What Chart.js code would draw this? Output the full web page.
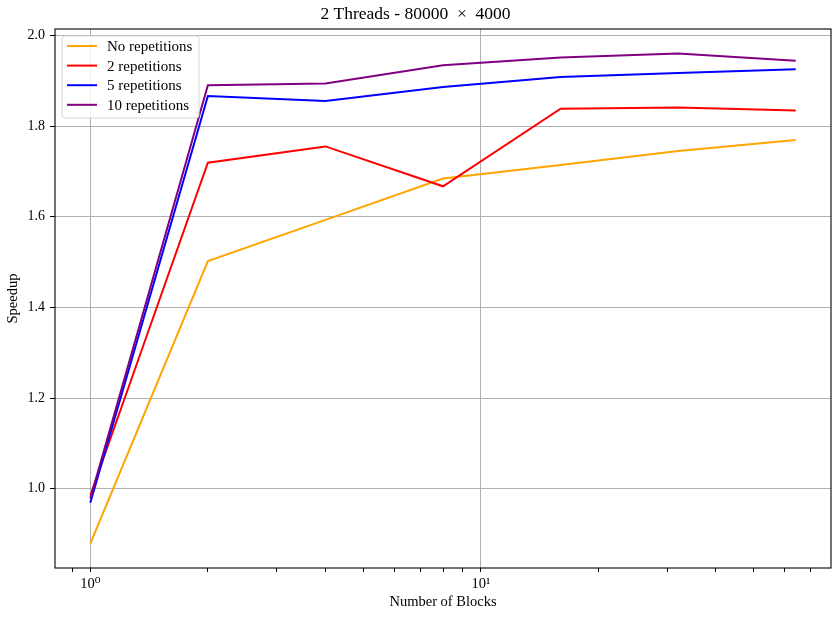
<!DOCTYPE html>
<html>
<head>
<meta charset="utf-8">
<script src="https://cdn.jsdelivr.net/npm/chart.js@4/dist/chart.umd.min.js"></script>
<style>
  html, body { margin: 0; padding: 0; background: #fff; }
  #wrap { width: 840px; height: 618px; }
</style>
</head>
<body>
<div id="wrap"><canvas id="speedup"></canvas></div>
<script>
// values
const blocks = [1, 2, 4, 8, 16, 32, 64];
const noRep = [0.879, 1.502, 1.593, 1.684, 1.714, 1.745, 1.769];
const rep2 = [0.985, 1.719, 1.755, 1.667, 1.838, 1.841, 1.834];
const rep5 = [0.969, 1.866, 1.855, 1.886, 1.908, 1.917, 1.925];
const rep10 = [0.978, 1.890, 1.894, 1.934, 1.951, 1.960, 1.944];

const seriesNames = ["No repetitions", "2 repetitions", "5 repetitions", "10 repetitions"];
const seriesColors = ["#ffa500", "#ff0000", "#0000ff", "#800080"];

const yTicks = [1.0, 1.2, 1.4, 1.6, 1.8, 2.0];
const xMajor = [1, 10];
const xMinor = [0.9, 2, 3, 4, 5, 6, 7, 8, 9, 20, 30, 40, 50, 60, 70];
const xLabels = { 1: "10\u2070", 10: "10\u00b9" };

const serif = "'Liberation Serif', 'DejaVu Serif', serif";

function toPoints(vals) {
    return blocks.map((b, i) => ({ x: b, y: vals[i] }));
}

const allSeries = [noRep, rep2, rep5, rep10];

const datasets = allSeries.map((vals, i) => ({
    label: seriesNames[i],
    data: toPoints(vals),
    borderColor: seriesColors[i],
    backgroundColor: seriesColors[i],
    borderWidth: 2,
    pointRadius: 0,
    tension: 0,
    fill: false,
    order: allSeries.length - i
}));

// frame + legend drawn like matplotlib
const framePlugin = {
    id: "frame",
    afterDraw(chart) {
        const ctx = chart.ctx;
        const a = chart.chartArea;
        ctx.save();
        ctx.strokeStyle = "#000";
        ctx.lineWidth = 1.1;
        ctx.strokeRect(a.left, a.top, a.right - a.left, a.bottom - a.top);

        // legend box
        const bx = a.left + 7, by = a.top + 7, bw = 137, bh = 82;
        ctx.beginPath();
        ctx.roundRect(bx, by, bw, bh, 3);
        ctx.fillStyle = "rgba(255,255,255,0.8)";
        ctx.fill();
        ctx.strokeStyle = "#d6d6d6";
        ctx.lineWidth = 1;
        ctx.stroke();

        ctx.font = "15px " + serif;
        ctx.textBaseline = "middle";
        ctx.textAlign = "left";
        seriesNames.forEach((name, i) => {
            const y = by + 10 + i * 19.6;
            ctx.beginPath();
            ctx.moveTo(bx + 5, y);
            ctx.lineTo(bx + 35, y);
            ctx.strokeStyle = seriesColors[i];
            ctx.lineWidth = 2;
            ctx.stroke();
            ctx.fillStyle = "#000";
            ctx.fillText(name, bx + 45, y + 1);
        });
        ctx.restore();
    }
};

const ctx = document.getElementById("speedup").getContext("2d");

const speedupChart = new Chart(ctx, {
    type: "line",
    data: { datasets: datasets },
    options: {
        responsive: true,
        maintainAspectRatio: false,
        animation: false,
        devicePixelRatio: 1,
        layout: { padding: { left: 0, right: 9, top: 0, bottom: 0 } },
        plugins: {
            legend: { display: false },
            tooltip: { enabled: false },
            title: {
                display: true,
                text: "2 Threads - 80000 \u00a0\u00d7\u00a0 4000",
                color: "#000",
                font: { family: serif, size: 17.5, weight: "normal" },
                padding: { top: 4, bottom: 4 }
            }
        },
        scales: {
            x: {
                type: "logarithmic",
                min: 0.812,
                max: 78.8,
                afterBuildTicks(scale) {
                    scale.ticks = xMinor.concat(xMajor).sort((a, b) => a - b).map(v => ({ value: v }));
                },
                afterFit(scale) { scale.height = 50; },
                ticks: {
                    autoSkip: false,
                    maxRotation: 0,
                    color: "#000",
                    padding: 3,
                    font: { family: serif, size: 14.5 },
                    callback: v => xLabels[v] || ""
                },
                grid: {
                    color: c => (c.tick && xMajor.includes(c.tick.value)) ? "#b0b0b0" : "rgba(0,0,0,0)",
                    tickColor: "#000",
                    tickLength: 4,
                    lineWidth: 1
                },
                border: { display: false },
                title: {
                    display: true,
                    text: "Number of Blocks",
                    color: "#000",
                    font: { family: serif, size: 14.5 },
                    padding: { top: 0, bottom: 7 }
                }
            },
            y: {
                type: "linear",
                min: 0.825,
                max: 2.014,
                afterBuildTicks(scale) {
                    scale.ticks = yTicks.map(v => ({ value: v }));
                },
                afterFit(scale) { scale.width = 55; },
                ticks: {
                    color: "#000",
                    padding: 5,
                    font: { family: serif, size: 14 },
                    callback: v => v.toFixed(1)
                },
                grid: {
                    color: "#b0b0b0",
                    tickColor: "#000",
                    tickLength: 5,
                    lineWidth: 1
                },
                border: { display: false },
                title: {
                    display: true,
                    text: "Speedup",
                    color: "#000",
                    font: { family: serif, size: 14.5 },
                    padding: { top: 4, bottom: 0 }
                }
            }
        }
    },
    plugins: [framePlugin]
});
</script>
</body>
</html>
